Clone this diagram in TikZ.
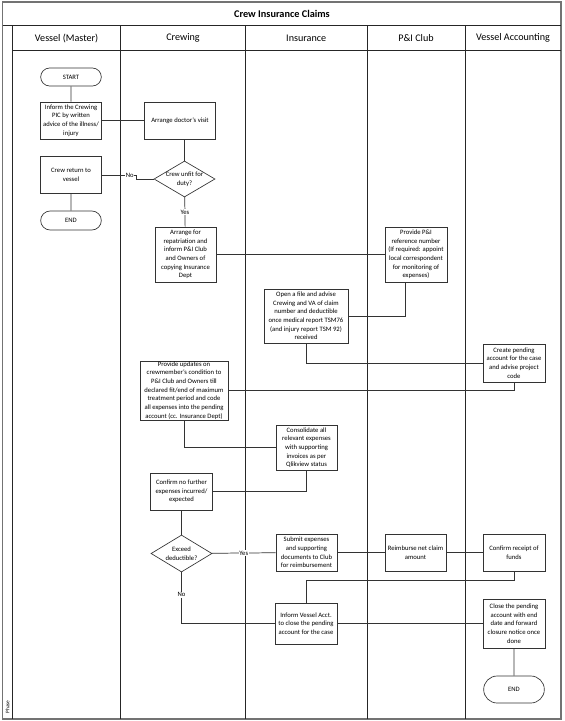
\documentclass[tikz,border=0pt]{standalone}
\usepackage{fontspec}
\setmainfont{Carlito}
\usetikzlibrary{shapes.geometric,shapes.misc}

\begin{document}
\begin{tikzpicture}[x=0.75pt,y=0.75pt,yscale=-1,xscale=1,
    box/.style 2 args={draw=black!80, line width=0.5pt, fill=white, align=center, inner sep=0.5pt, font=\fontsize{5}{6.5}\selectfont, minimum width=#1*0.75pt, minimum height=#2*0.75pt},
    term/.style 2 args={box={#1}{#2}, rounded rectangle},
    choice/.style 2 args={box={#1}{#2}, diamond, aspect=1.65, inner sep=-0.5pt},
    lbl/.style={fill=white, inner sep=0.6pt, font=\fontsize{5}{6}\selectfont},
    head/.style={font=\fontsize{7.6}{9}\selectfont},
    lane/.style={draw=black!85, line width=0.7pt},
    link/.style={draw=black!80, line width=0.55pt}]
        \useasboundingbox (0,0) rectangle (564,721);

        %Shape: Frame
        \draw [draw=black!55, line width=1.4pt] (2.5,2) rectangle (561,719);
        %Straight Lines: title row and header row
        \draw [lane] (2.5,25) -- (561,25) ;
        \draw [lane] (12.7,50) -- (561,50) ;
        %Straight Lines: lane dividers
        \draw [lane] (12.7,25) -- (12.7,719) ;
        \draw [lane] (120.5,25) -- (120.5,719) ;
        \draw [lane] (245.5,25) -- (245.5,719) ;
        \draw [lane] (367,25) -- (367,719) ;
        \draw [lane] (465,25) -- (465,719) ;

        % Text Node
        \node [font=\fontsize{7.7}{9}\selectfont\bfseries] (title) at (282,14) {Crew Insurance Claims};
        % Text Node
        \node [head] (hdMaster) at (66.6,38) {Vessel (Master)};
        % Text Node
        \node [head] (hdCrewing) at (183,38) {Crewing};
        % Text Node
        \node [head] (hdInsurance) at (306.2,38) {Insurance};
        % Text Node
        \node [head] (hdClub) at (416,38) {P\&I Club};
        % Text Node
        \node [head] (hdAccounting) at (513,38) {Vessel Accounting};
        % Text Node
        \node [rotate=90, font=\fontsize{4}{5}\selectfont] (phase) at (7.6,707) {Phase};

        %Shape: Terminator
        \node [term={62}{18}] (start) at (71,77) {START};
        %Shape: Rectangle
        \node [box={61}{37}] (inform) at (71,120.5) {Inform the Crewing\\PIC by written\\advice of the illness/\\injury};
        %Shape: Rectangle
        \node [box={71}{37}] (doctor) at (180,120.5) {Arrange doctor's visit};
        %Shape: Diamond
        \node [choice={61}{36}] (unfit) at (184.5,179) {Crew unfit for\\duty?};
        %Shape: Rectangle
        \node [box={61}{37}] (crewback) at (71,175) {Crew return to\\vessel};
        %Shape: Terminator
        \node [term={62}{19}] (endA) at (71,220.5) {END};
        %Shape: Rectangle
        \node [box={61}{55}] (repat) at (185.5,254.5) {Arrange for\\repatriation and\\inform P\&I Club\\and Owners of\\copying Insurance\\Dept};
        %Shape: Rectangle
        \node [box={62}{55}] (clubref) at (416,254.5) {Provide P\&I\\reference number\\(If required: appoint\\local correspondent\\for monitoring of\\expenses)};
        %Shape: Rectangle
        \node [box={84}{54}] (openfile) at (306,316) {Open a file and advise\\Crewing and VA of claim\\number and deductible\\once medical report TSM76\\(and injury report TSM 92)\\received};
        %Shape: Rectangle
        \node [box={62}{38}] (pending) at (514,363) {Create pending\\account for the case\\and advise project\\code};
        %Shape: Rectangle
        \node [box={88}{59}] (updates) at (184,390.5) {Provide updates on\\crewmember's condition to\\P\&I Club and Owners till\\declared fit/end of maximum\\treatment period and code\\all expenses into the pending\\account (cc. Insurance Dept)};
        %Shape: Rectangle
        \node [box={61}{45}] (consol) at (306.5,447.5) {Consolidate all\\relevant expenses\\with supporting\\invoices as per\\Qlikview status};
        %Shape: Rectangle
        \node [box={62}{37}] (nofurther) at (181.5,491.5) {Confirm no further\\expenses incurred/\\expected};
        %Shape: Diamond
        \node [choice={61}{37}] (exceed) at (181.5,553.5) {Exceed\\deductible?};
        %Shape: Rectangle
        \node [box={61}{37}] (submit) at (306.5,552.5) {Submit expenses\\and supporting\\documents to Club\\for reimbursement};
        %Shape: Rectangle
        \node [box={61}{37}] (reimb) at (415.5,552.5) {Reimburse net claim\\amount};
        %Shape: Rectangle
        \node [box={62}{37}] (receipt) at (514,552.5) {Confirm receipt of\\funds};
        %Shape: Rectangle
        \node [box={62}{41}] (informva) at (306,623.5) {Inform Vessel Acct.\\to close the pending\\account for the case};
        %Shape: Rectangle
        \node [box={62}{49}] (closeacc) at (514,623.5) {Close the pending\\account with end\\date and forward\\closure notice once\\done};
        %Shape: Terminator
        \node [term={62}{27}] (endB) at (514,689.5) {END};

        %Straight Lines
        \draw [link] (start) -- (inform) ;
        \draw [link] (inform) -- (doctor) ;
        \draw [link] (unfit.north |- doctor.south) -- (unfit.north) ;
        \draw [link] (unfit.west) -- ++(-17,0) |- node [lbl, pos=0.6] {No} (crewback.east) ;
        \draw [link] (crewback) -- (endA) ;
        \draw [link] (unfit) -- node [lbl] {Yes} (repat) ;
        \draw [link] (repat) -- (clubref) ;
        \draw [link] ([xshift=-8pt]clubref.south) |- (openfile.east) ;
        \draw [link] (openfile.south) |- (pending.west) ;
        \draw [link] (pending.south) |- (updates.east) ;
        \draw [link] (updates.south) |- (consol.west) ;
        \draw [link] (consol.south) |- (nofurther.east) ;
        \draw [link] (nofurther) -- (exceed) ;
        \draw [link] (exceed) -- node [lbl] {Yes} (submit) ;
        \draw [link] (submit) -- (reimb) ;
        \draw [link] (reimb) -- (receipt) ;
        \draw [link] (receipt.south) -- ++(0,9) -| (informva.north) ;
        \draw [link] (exceed.south) |- node [lbl, pos=0.22] {No} (informva.west) ;
        \draw [link] (informva) -- (closeacc) ;
        \draw [link] (closeacc) -- (endB) ;

    \end{tikzpicture}
\end{document}
